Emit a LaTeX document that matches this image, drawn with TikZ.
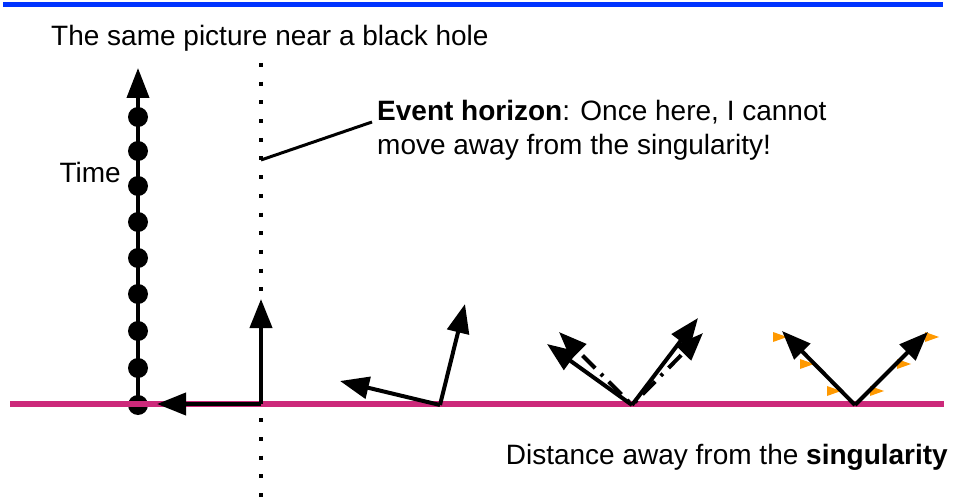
\documentclass[tikz,border=0pt]{standalone}
\usepackage{fontspec}
\setmainfont{Liberation Sans}
\usetikzlibrary{arrows.meta}
\definecolor{topblue}{RGB}{0,51,255}
\definecolor{axismag}{RGB}{204,41,122}
\definecolor{flowor}{RGB}{255,153,0}
\tikzset{
  arr/.style={-{Triangle[length=29pt,width=22pt]}, line width=4pt},
  cone/.style={-{Triangle[length=28pt,width=21pt]}, line width=4pt,
               dash pattern=on 3pt off 8pt on 18pt off 8pt, dash phase=33pt},
  lbl/.style={inner sep=0pt, font=\fontsize{28}{34}\selectfont},
  tick/.style={circle, fill, inner sep=0pt, minimum size=20pt},
  horizon/.style={line width=4pt, dash pattern=on 4pt off 14.7pt},
  flow/.pic={\fill[flowor] (0,-5) -- (14,0) -- (0,5) -- cycle;},
}

\begin{document}
\begin{tikzpicture}[x=1pt, y=-1pt]
\useasboundingbox (0,0) rectangle (954,500);

\draw[topblue, line width=5pt] (3,5) -- (943,5);

\node[lbl, anchor=west] (title) at (51,38) {The same picture near a black hole};

\coordinate (timetip) at (138,68);
\coordinate (timefoot) at (138,405);
\draw[arr, -{Triangle[length=30pt,width=22pt]}] (timefoot) -- (timetip);
\foreach \y [count=\i] in {405,368,331,294,258,222,186,151,117}
  \node[tick] (t\i) at (138,\y) {};
\node[lbl, anchor=east] (timelbl) at (121,172) {Time};

\coordinate (hztop) at (261,63);
\coordinate (hzbot) at (261,497);
\draw[horizon] (hztop) -- (hzbot);

\coordinate (hzpt) at (261,160);
\coordinate (hzend) at (372,122);
\node[lbl, anchor=west, align=left] (ehnote) at (377,130)
  {\textbf{Event horizon}: Once here, I cannot\\move away from the singularity!};
\draw[line width=3pt] (hzpt) -- (hzend);

\coordinate (axl) at (10,404);
\coordinate (axr) at (944,404);
\draw[axismag, line width=5.5pt] (axl) -- (axr);

\node[lbl, anchor=east] (distlbl) at (948,457) {Distance away from the \textbf{singularity}};

% frame 1
\coordinate (va) at (261,404);
\coordinate (val) at (157,404);
\coordinate (vau) at (261,299);
\draw[arr] (va) -- (val);
\draw[arr] (va) -- (vau);

% frame 2
\coordinate (vb) at (440,405);
\coordinate (vbl) at (340,381);
\coordinate (vbu) at (465,304);
\draw[arr] (vb) -- (vbl);
\draw[arr] (vb) -- (vbu);

% frame 3
\coordinate (vc) at (632,405);
\coordinate (vcl) at (547,344);
\coordinate (vcu) at (698,318);
\coordinate (vcl45) at (559,332);
\coordinate (vcu45) at (703,333);
\draw[cone] (vc) -- (vcl45);
\draw[cone] (vc) -- (vcu45);
\draw[arr] (vc) -- (vcl);
\draw[arr] (vc) -- (vcu);

% frame 4
\coordinate (vd) at (855,405);
\coordinate (vdl) at (782,331);
\coordinate (vdu) at (928,332);
\foreach \x/\y in {773/337,800/364,827/391,870/391,897/364,925/337}
  \pic at (\x,\y) {flow};
\draw[arr] (vd) -- (vdl);
\draw[arr] (vd) -- (vdu);
\end{tikzpicture}
\end{document}
